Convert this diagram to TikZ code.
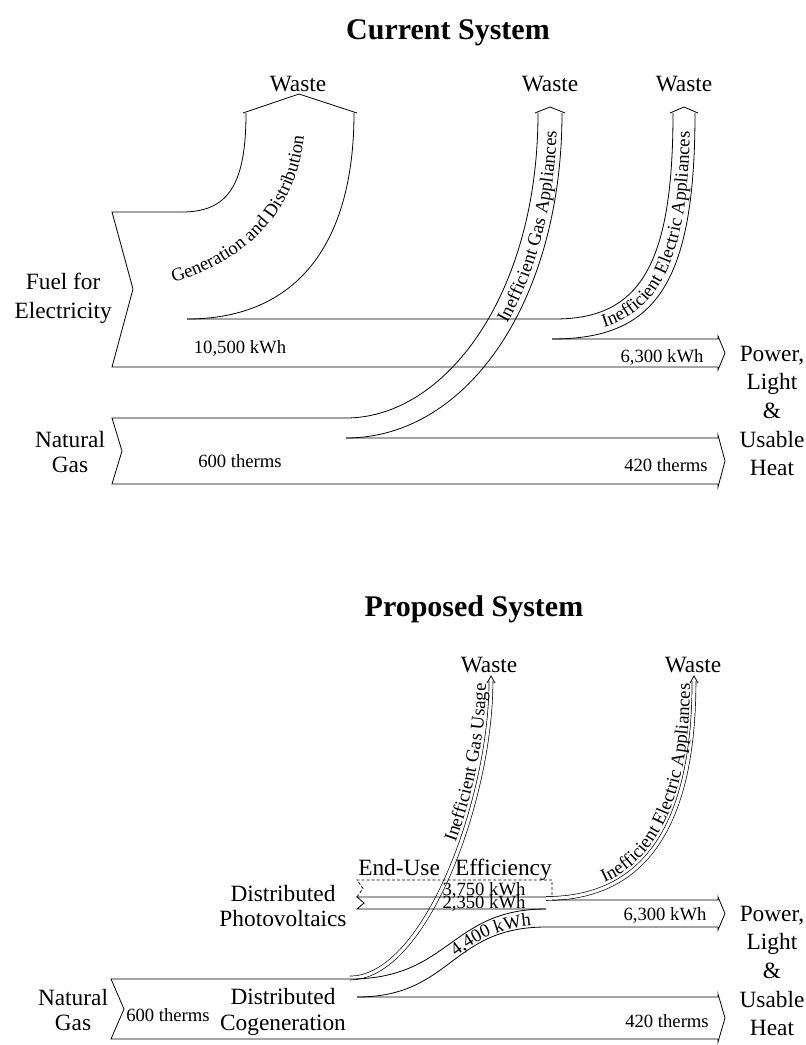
\documentclass[tikz,border=0pt]{standalone}
\usepackage{fontspec}
\setmainfont{Liberation Serif}
\usetikzlibrary{decorations.text}

\newcommand{\titlesize}{\fontsize{22.5}{27}\selectfont\bfseries}
\newcommand{\labelsize}{\fontsize{17.5}{21.5}\selectfont}
\newcommand{\pairsize}{\fontsize{17.5}{19}\selectfont}
\newcommand{\valuesize}{\fontsize{14}{16}\selectfont}

\tikzset{
  band/.style={line width=0.6pt},
  thinflow/.style={double, double distance=2.4pt, line width=0.5pt},
  eue/.style={line width=0.6pt, dash pattern=on 2.2pt off 1.6pt},
  heading/.style={font=\titlesize, inner sep=0pt, anchor=base},
  lbltext/.style={font=\labelsize, align=center, inner sep=0pt},
  amount/.style={font=\valuesize, inner sep=0pt, anchor=base},
  flowtext/.style 2 args={decorate, decoration={text along path,
      text={|\valuesize|#1}, text align={right, right indent=#2}}}
}

\begin{document}
\begin{tikzpicture}[x=0.75pt, y=-0.75pt]
  \useasboundingbox (0,0) rectangle (806,1045);

  % current system
  \node[heading] (curtitle) at (448,40) {Current System};

  \draw[band] (182,212) -- (112,212) -- (133,289) -- (112,367) -- (718,367);
  \draw[band] (182,212) .. controls (228,212) and (246,185) .. (246,113);
  \draw[band] (187,319) .. controls (300,319) and (354,240) .. (354,113);
  \draw[band] (243,113) -- (299,94) -- (357,113);
  \draw[band] (187,319) -- (555,319) .. controls (640,319) and (673,265) .. (673,113);
  \draw[band] (552,339) .. controls (655,339) and (695,285) .. (695,113);
  \draw[band] (670,113) -- (684,107) -- (698,113);
  \draw[band] (552,339) -- (718,339) -- (718,336) -- (725,353) -- (718,370) -- (718,367);

  \draw[band] (346,418) -- (112,418) -- (122,451) -- (112,484) -- (718,484);
  \draw[band] (346,418) .. controls (445,418) and (538,295) .. (538,113);
  \draw[band] (346,438) .. controls (468,438) and (562,300) .. (562,113);
  \draw[band] (535,113) -- (550,107) -- (565,113);
  \draw[band] (346,438) -- (718,438) -- (718,435) -- (725,461) -- (718,487) -- (718,484);

  \path[flowtext={Generation and Distribution}{12pt}]
    (165,285) .. controls (248,263) and (303,208) .. (305,120);
  \path[flowtext={Inefficient Gas Appliances}{14pt}]
    (346,433) .. controls (463,433) and (557,298) .. (557,113);
  \path[flowtext={Inefficient Electric Appliances}{14pt}]
    (552,334) .. controls (650,334) and (690,283) .. (690,113);

  \node[lbltext, anchor=base] (waste1) at (298,92) {Waste};
  \node[lbltext, anchor=base] (waste2) at (550,92) {Waste};
  \node[lbltext, anchor=base] (waste3) at (684,92) {Waste};
  \node[lbltext, anchor=east] (fuel) at (112,298) {Fuel for\\Electricity};
  \node[lbltext, font=\pairsize] (gas) at (70,452) {Natural\\Gas};
  \node[lbltext] (use) at (772,411) {Power,\\Light\\\&\\Usable\\Heat};
  \node[amount] (kwh1) at (240,353) {10,500 kWh};
  \node[amount] (kwh2) at (662,362) {6,300 kWh};
  \node[amount] (th1) at (240,467) {600 therms};
  \node[amount] (th2) at (666,471) {420 therms};

  % proposed system
  \node[heading] (protitle) at (474,616) {Proposed System};

  \draw[band] (350,979) -- (111,979) -- (124,1009) -- (111,1039) -- (718,1039);
  \draw[band] (357,997) -- (718,997) -- (718,994) -- (725,1018) -- (718,1042) -- (718,1039);
  \draw[thinflow] (350,978) .. controls (425,978) and (491,800) .. (491,681);
  \draw[band] (487,683) -- (491,676) -- (495,683);
  \draw[band] (350,979) .. controls (450,979) and (450,909) .. (546,909);
  \draw[band] (357,997) .. controls (452,997) and (450,927) .. (546,927) -- (718,927);
  \draw[band] (546,909) -- (357,909) -- (364,903) -- (357,897) -- (546,897);
  \draw[eue] (357,897) -- (363,888.5) -- (357,880) -- (552,880) -- (552,897);
  \draw[thinflow] (546,898.5) .. controls (645,898.5) and (694,825) .. (694,681);
  \draw[band] (690,683) -- (694,676) -- (698,683);
  \draw[band] (552,900) -- (718,900) -- (718,897) -- (725,913.5) -- (718,930) -- (718,927);

  \path[flowtext={Inefficient Gas Usage}{2pt}]
    (345,975) .. controls (420,975) and (486,800) .. (486,681);
  \path[flowtext={Inefficient Electric Appliances}{2pt}]
    (546,894) .. controls (642,894) and (690,822) .. (690,681);
  \path[flowtext={4,400 kWh}{11pt}]
    (357,995) .. controls (452,995) and (450,925) .. (546,925);

  \node[lbltext, anchor=base] (waste4) at (489,672) {Waste};
  \node[lbltext, anchor=base] (waste5) at (693,672) {Waste};
  \node[lbltext, anchor=base west] (enduse) at (358,875) {End-Use};
  \node[lbltext, anchor=base east] (effic) at (552,875) {Efficiency};
  \node[lbltext, font=\pairsize] (pv) at (283,906) {Distributed\\Photovoltaics};
  \node[lbltext, font=\pairsize] (cogen) at (283,1012) {Distributed\\Cogeneration};
  \node[lbltext, font=\pairsize] (gas2) at (73,1010) {Natural\\Gas};
  \node[lbltext] (use2) at (772,971) {Power,\\Light\\\&\\Usable\\Heat};
  \node[amount] (kwh3) at (484,895) {3,750 kWh};
  \node[amount] (kwh4) at (484,908.5) {2,350 kWh};
  \node[amount] (kwh5) at (665,920) {6,300 kWh};
  \node[amount] (th3) at (168,1021) {600 therms};
  \node[amount] (th4) at (667,1027) {420 therms};
\end{tikzpicture}
\end{document}
